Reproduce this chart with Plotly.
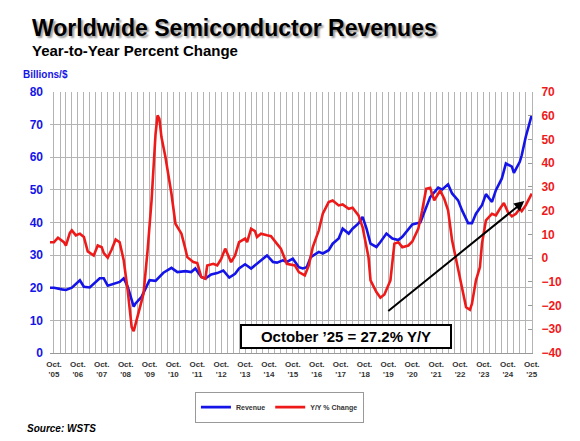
import plotly.graph_objects as go

# ---------------- data ----------------
rev_dates = [
    "2005-08", "2005-10", "2006-02", "2006-04", "2006-07", "2006-11", "2007-01", "2007-04",
    "2007-09", "2007-11", "2008-01", "2008-04", "2008-07", "2008-09", "2008-11", "2009-02",
    "2009-03", "2009-06", "2009-08", "2009-10", "2010-01", "2010-05", "2010-09", "2010-12",
    "2011-04", "2011-07", "2011-09", "2011-12", "2012-02", "2012-05", "2012-08", "2012-11",
    "2013-02", "2013-05", "2013-07", "2013-10", "2014-01", "2014-04", "2014-07", "2014-09",
    "2014-12", "2015-02", "2015-05", "2015-07", "2015-10", "2016-01", "2016-03", "2016-05",
    "2016-07", "2016-11", "2017-01", "2017-04", "2017-06", "2017-09", "2017-11", "2018-02",
    "2018-04", "2018-07", "2018-09", "2018-11", "2019-01", "2019-04", "2019-06", "2019-09",
    "2019-12", "2020-03", "2020-05", "2020-08", "2020-10", "2021-02", "2021-04", "2021-07",
    "2021-11", "2022-01", "2022-04", "2022-06", "2022-09", "2022-11", "2023-02", "2023-04",
    "2023-06", "2023-09", "2023-11", "2024-02", "2024-04", "2024-07", "2024-09", "2024-12",
    "2025-01", "2025-04", "2025-05", "2025-07", "2025-10",
]
rev_values = [
    20.0, 20.0, 19.5, 19.3, 20.0, 22.3, 20.3, 20.1,
    22.9, 22.9, 20.6, 21.3, 21.8, 22.9, 20.3, 14.2,
    15.2, 17.2, 19.8, 22.3, 22.1, 24.6, 26.1, 24.8,
    25.1, 24.8, 25.9, 23.3, 22.8, 24.1, 24.5, 25.3,
    23.1, 24.3, 25.9, 27.2, 25.9, 27.4, 28.9, 29.9,
    27.9, 27.7, 28.4, 27.9, 28.9, 26.3, 25.9, 26.3,
    29.4, 31.0, 30.5, 31.5, 33.5, 35.1, 38.1, 36.6,
    38.1, 39.7, 41.7, 38.1, 33.5, 32.5, 34.0, 36.6,
    35.1, 34.6, 35.6, 38.1, 39.4, 40.0, 43.2, 47.8,
    50.7, 50.1, 51.7, 48.9, 46.8, 43.7, 39.8, 39.8,
    42.7, 45.3, 48.7, 46.3, 49.9, 53.5, 58.1, 57.1,
    55.2, 58.6, 60.6, 66.2, 72.9,
]

yoy_dates = [
    "2005-08", "2005-10", "2005-12", "2006-02", "2006-03", "2006-04", "2006-06", "2006-07",
    "2006-09", "2006-11", "2007-01", "2007-03", "2007-06", "2007-08", "2007-10", "2007-11",
    "2008-01", "2008-03", "2008-05", "2008-07", "2008-09", "2008-11", "2009-01", "2009-02",
    "2009-03", "2009-05", "2009-07", "2009-09", "2009-11", "2010-01", "2010-02", "2010-03",
    "2010-04", "2010-06", "2010-09", "2010-11", "2010-12", "2011-02", "2011-04", "2011-05",
    "2011-08", "2011-10", "2011-12", "2012-02", "2012-03", "2012-06", "2012-08", "2012-10",
    "2012-12", "2013-01", "2013-03", "2013-05", "2013-07", "2013-10", "2013-11", "2014-01",
    "2014-03", "2014-04", "2014-06", "2014-09", "2014-11", "2015-02", "2015-04", "2015-07",
    "2015-09", "2015-11", "2016-01", "2016-04", "2016-06", "2016-08", "2016-11", "2017-01",
    "2017-04", "2017-06", "2017-09", "2017-11", "2018-02", "2018-04", "2018-07", "2018-09",
    "2018-12", "2019-01", "2019-04", "2019-06", "2019-08", "2019-11", "2020-01", "2020-03",
    "2020-05", "2020-08", "2020-10", "2021-01", "2021-03", "2021-05", "2021-07", "2021-09",
    "2021-10", "2021-12", "2022-02", "2022-04", "2022-06", "2022-09", "2022-11", "2023-01",
    "2023-03", "2023-04", "2023-06", "2023-08", "2023-09", "2023-11", "2024-02", "2024-04",
    "2024-06", "2024-08", "2024-10", "2024-12", "2025-02", "2025-04", "2025-05", "2025-07",
    "2025-10",
]
yoy_values = [
    6.7, 6.7, 8.6, 7.1, 6.7, 5.3, 10.6, 11.7,
    9.6, 10.3, 8.9, 2.8, 1.1, 5.3, 4.6, 2.1,
    0.2, 3.6, 7.8, 6.7, -0.9, -13.6, -29.1, -30.8,
    -27.7, -22.0, -15.0, 3.2, 24.3, 52.4, 60.1, 58.7,
    51.0, 42.6, 27.1, 14.5, 13.1, 10.3, 4.0, 0.4,
    -1.7, -2.1, -8.0, -8.7, -3.1, -2.4, -3.1, -0.3,
    4.0, 1.8, -1.7, 1.1, 6.7, 8.2, 6.7, 12.4,
    11.4, 8.9, 10.3, 9.6, 9.2, 6.0, 4.0, -2.4,
    -2.7, -3.1, -5.9, -7.3, -3.1, 4.6, 11.7, 18.7,
    23.6, 24.3, 22.2, 22.6, 20.8, 21.2, 18.0, 13.1,
    0.4, -9.4, -14.3, -16.7, -15.3, -9.4, 6.1, 6.7,
    4.6, 5.3, 7.0, 12.4, 20.1, 29.2, 29.6, 24.3,
    25.7, 28.5, 25.0, 20.1, 7.5, -5.2, -13.6, -20.7,
    -21.8, -19.2, -9.4, -3.8, 6.1, 15.9, 18.7, 18.0,
    20.8, 23.2, 19.4, 17.6, 18.7, 20.8, 19.8, 22.2,
    27.2,
]

tick_dates = ["2005-10", "2006-10", "2007-10", "2008-10", "2009-10", "2010-10", "2011-10",
              "2012-10", "2013-10", "2014-10", "2015-10", "2016-10", "2017-10", "2018-10",
              "2019-10", "2020-10", "2021-10", "2022-10", "2023-10", "2024-10", "2025-10"]
tick_labels = ["Oct.<br>'05", "Oct.<br>'06", "Oct.<br>'07", "Oct.<br>'08", "Oct.<br>'09",
               "Oct.<br>'10", "Oct.<br>'11", "Oct.<br>'12", "Oct.<br>'13", "Oct.<br>'14",
               "Oct.<br>'15", "Oct.<br>'16", "Oct.<br>'17", "Oct.<br>'18", "Oct.<br>'19",
               "Oct.<br>'20", "Oct.<br>'21", "Oct.<br>'22", "Oct.<br>'23", "Oct.<br>'24",
               "Oct.<br>'25"]

# ---------------- styling ----------------
FONT = "Liberation Sans, Arial, Helvetica, sans-serif"
BLUE = "#1414e8"
RED = "#ee1a1a"
GRID = "#b4b4b4"

fig = go.Figure()
fig.add_trace(go.Scatter(x=rev_dates, y=rev_values, name="Revenue", mode="lines",
                         line=dict(color=BLUE, width=2.6), yaxis="y"))
fig.add_trace(go.Scatter(x=yoy_dates, y=yoy_values, name="Y/Y % Change", mode="lines",
                         line=dict(color=RED, width=2.6), yaxis="y2"))

# the page body adds an 8px offset, so the figure is 8px smaller than the window
fig.update_layout(
    width=572, height=433,
    margin=dict(l=42, r=48, t=84, b=88),
    paper_bgcolor="white", plot_bgcolor="white",
    font=dict(family=FONT),
    showlegend=True,
    legend=dict(orientation="h", x=0.476, xanchor="center", y=-0.148, yanchor="top",
                font=dict(family=FONT, size=7, color="#333", weight="bold"),
                bordercolor="#999", borderwidth=1, bgcolor="white",
                itemwidth=30),
    xaxis=dict(type="date", range=["2005-08-01", "2025-10-05"],
               tickmode="array", tickvals=tick_dates, ticktext=tick_labels,
               tickfont=dict(family=FONT, size=8, color="#333", weight="bold"),
               showgrid=True, gridcolor=GRID, gridwidth=1,
               minor=dict(dtick="M3", tick0="2005-10-01", showgrid=True,
                          gridcolor=GRID, gridwidth=1),
               showline=True, linecolor="#999", linewidth=1,
               ticks="", ticklabelstandoff=3, zeroline=False),
    yaxis=dict(range=[0, 80], dtick=10, showgrid=True, gridcolor=GRID, gridwidth=1,
               tickfont=dict(family=FONT, size=12, color=BLUE, weight="bold"),
               zeroline=False, showline=False, ticks="", ticklabelstandoff=6),
    yaxis2=dict(range=[-40, 70], dtick=10, overlaying="y", side="right", showgrid=False,
                tickfont=dict(family=FONT, size=12, color=RED, weight="bold"),
                zeroline=False, showline=True, linecolor=GRID, linewidth=1,
                ticks="inside", ticklen=4, tickcolor="#999", ticklabelstandoff=6),
)

annotations = [
    dict(text="Worldwide Semiconductor Revenues", x=-0.0425, y=1.245,
         xanchor="left", yanchor="middle",
         font=dict(family=FONT, size=23, color="black", weight="bold",
                   shadow="2px 2px 2px #9a9a9a")),
    dict(text="Year-to-Year Percent Change", x=-0.0405, y=1.159,
         xanchor="left", yanchor="middle",
         font=dict(family=FONT, size=15, color="black", weight="bold")),
    dict(text="Billions/$", x=-0.060, y=1.066, xanchor="left", yanchor="middle",
         font=dict(family=FONT, size=10, color=BLUE, weight="bold")),
    dict(text="Source: WSTS", x=-0.052, y=-0.289, xanchor="left", yanchor="middle",
         font=dict(family=FONT, size=10, color="black", weight="bold", style="italic")),
    dict(text="October \u201925 = 27.2% Y/Y", x=0.615, y=0.064,
         xanchor="center", yanchor="middle", width=206, height=19,
         bgcolor="white", bordercolor="black", borderwidth=2, borderpad=1,
         font=dict(family=FONT, size=15, color="black", weight="bold")),
    dict(text="", x=0.984, y=0.582, ax=-137.5, ay=111.2, axref="pixel", ayref="pixel",
         showarrow=True, arrowhead=2, arrowsize=1, arrowwidth=2, arrowcolor="black",
         standoff=0),
]
for a in annotations:
    a.setdefault("xref", "paper")
    a.setdefault("yref", "paper")
    a.setdefault("showarrow", False)
fig.update_layout(annotations=annotations)

fig.write_html("out.html")
